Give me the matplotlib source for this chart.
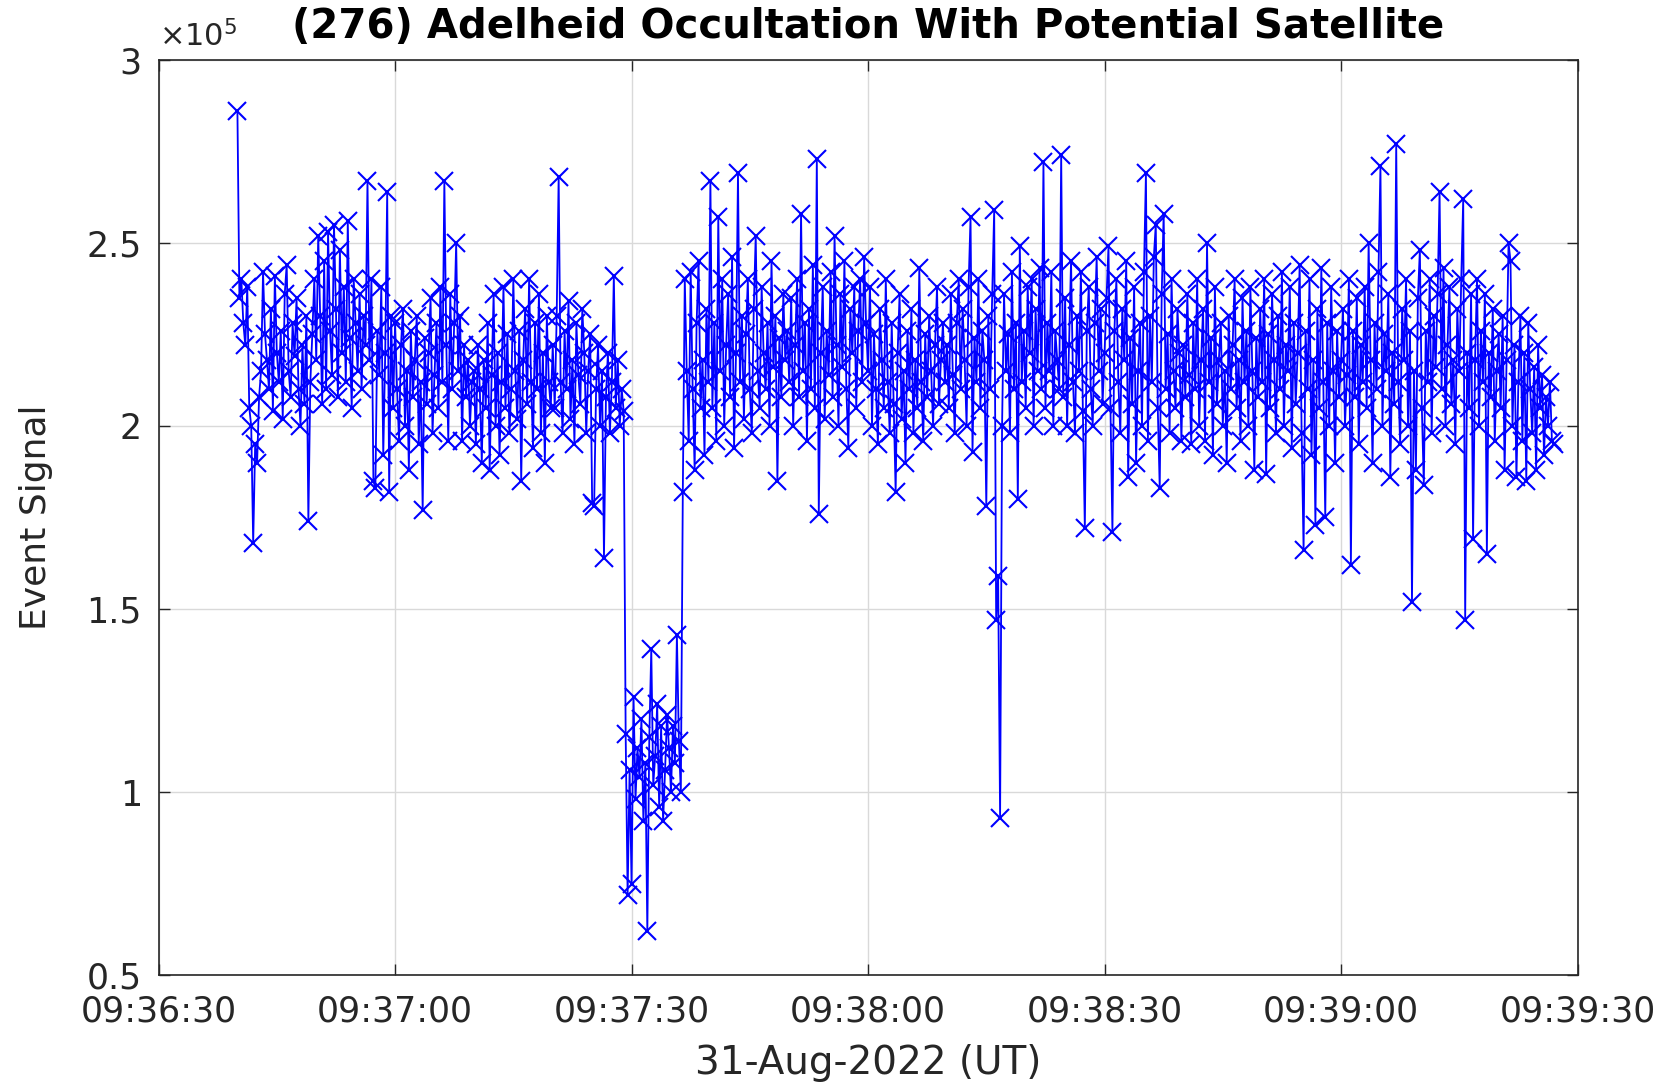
import numpy as np
import matplotlib
matplotlib.use("Agg")
import matplotlib.pyplot as plt
from matplotlib.ticker import FuncFormatter

# Event signal, units of 1e3 counts, one sample every 0.25 s from 09:36:40
b00 = [286, 235, 240, 228, 222, 238, 205, 200, 168, 195, 190, 208, 215, 242, 225, 218, 210, 232, 204, 241,
       220, 212, 226, 202, 236, 244, 215, 208, 228, 219, 235, 210, 200, 222, 206, 230, 174, 212, 225, 240]
b01 = [218, 252, 230, 206, 245, 210, 253, 226, 214, 255, 232, 208, 248, 220, 238, 212, 256, 224, 205, 240,
       228, 215, 236, 210, 230, 222, 267, 218, 240, 185, 183, 226, 214, 238, 192, 220, 264, 182, 230, 205]
b02 = [228, 210, 196, 222, 232, 200, 215, 188, 226, 208, 218, 230, 195, 212, 177, 224, 206, 220, 235, 198,
       214, 228, 205, 238, 212, 267, 222, 196, 236, 210, 228, 250, 215, 230, 196, 222, 208, 218, 200, 212]
b03 = [215, 195, 222, 210, 190, 218, 205, 228, 188, 214, 236, 200, 220, 192, 212, 238, 205, 225, 198, 210,
       240, 215, 202, 226, 185, 218, 232, 206, 240, 212, 194, 228, 210, 236, 198, 220, 190, 230, 212, 205]
b04 = [222, 205, 230, 268, 212, 198, 226, 210, 234, 202, 218, 195, 228, 214, 206, 232, 220, 198, 215, 225,
       179, 178, 210, 222, 200, 215, 164, 208, 220, 198, 212, 241, 205, 218, 200, 210, 204, 116, 72, 106]
b05 = [75, 126, 98, 112, 104, 120, 92, 108, 62, 115, 139, 102, 110, 124, 96, 118, 92, 106, 121, 112,
       100, 118, 108, 143, 114, 100, 182, 240, 215, 196, 242, 210, 188, 228, 245, 205, 218, 192, 232, 212]
b06 = [267, 205, 228, 196, 257, 215, 240, 200, 222, 236, 208, 246, 194, 220, 269, 212, 230, 202, 225, 240,
       210, 198, 232, 252, 215, 205, 238, 220, 210, 228, 200, 245, 216, 230, 185, 224, 208, 236, 218, 226]
b07 = [212, 235, 200, 222, 240, 208, 258, 215, 228, 196, 232, 210, 244, 205, 273, 176, 220, 238, 202, 226,
       214, 242, 208, 252, 222, 200, 236, 216, 245, 210, 194, 232, 220, 238, 205, 226, 240, 212, 246, 228]
b08 = [215, 238, 200, 225, 210, 195, 232, 218, 205, 240, 212, 198, 228, 206, 182, 220, 236, 202, 215, 190,
       226, 210, 232, 198, 218, 205, 243, 212, 196, 225, 208, 230, 215, 200, 222, 238, 206, 218, 228, 212]
b09 = [222, 205, 236, 214, 198, 228, 240, 210, 232, 218, 200, 238, 257, 193, 224, 212, 240, 205, 226, 218,
       178, 230, 210, 236, 259, 147, 159, 93, 200, 236, 215, 225, 198, 242, 210, 228, 180, 249, 212, 226]
b10 = [205, 238, 220, 240, 200, 232, 215, 243, 210, 272, 205, 228, 215, 242, 200, 226, 218, 210, 274, 208,
       235, 200, 222, 245, 212, 198, 230, 215, 242, 204, 172, 226, 238, 210, 200, 228, 246, 215, 232, 206]
b11 = [220, 235, 249, 205, 171, 226, 240, 212, 198, 232, 218, 245, 186, 224, 206, 238, 190, 215, 228, 200,
       242, 269, 196, 230, 212, 246, 255, 205, 183, 236, 258, 210, 225, 198, 240, 215, 205, 232, 220, 196]
b12 = [222, 208, 236, 214, 195, 228, 210, 240, 200, 218, 232, 196, 250, 212, 224, 192, 238, 206, 218, 228,
       200, 215, 190, 230, 210, 222, 240, 205, 218, 196, 235, 212, 226, 200, 238, 215, 188, 224, 208, 232]
b13 = [212, 240, 187, 225, 205, 236, 218, 198, 230, 210, 242, 200, 222, 215, 238, 194, 228, 206, 220, 244,
       198, 166, 226, 210, 240, 192, 218, 173, 232, 205, 243, 212, 175, 228, 200, 238, 215, 190, 226, 208]
b14 = [218, 232, 200, 214, 240, 162, 226, 208, 235, 195, 222, 212, 238, 205, 250, 218, 190, 228, 210, 242,
       271, 200, 225, 215, 236, 186, 220, 206, 277, 212, 195, 232, 218, 240, 200, 226, 152, 215, 188, 235]
b15 = [248, 205, 184, 226, 212, 240, 198, 230, 216, 236, 264, 210, 243, 200, 222, 238, 206, 218, 195, 232,
       215, 240, 262, 147, 220, 205, 236, 169, 218, 240, 200, 226, 212, 236, 165, 220, 208, 232, 196, 215]
b16 = [225, 205, 230, 188, 218, 250, 245, 200, 222, 186, 212, 230, 196, 220, 185, 228, 210, 198, 216, 188,
       222, 205, 214, 192, 208, 200, 212, 196, 195]

blocks = [b00, b01, b02, b03, b04, b05, b06, b07, b08, b09, b10, b11, b12, b13, b14, b15, b16]
signal = np.concatenate(blocks) * 1e3

# seconds after 09:36:30
t_start = 10.0
dt = 0.25
t = t_start + dt * np.arange(len(signal))

xticks = [0, 30, 60, 90, 120, 150, 180]
xticklabels = ["09:36:30", "09:37:00", "09:37:30", "09:38:00", "09:38:30", "09:39:00", "09:39:30"]
yticks = [0.5e5, 1e5, 1.5e5, 2e5, 2.5e5, 3e5]

plt.rcParams['font.family'] = ['DejaVu Sans']
tick_col = (0.15, 0.15, 0.15)

fig = plt.figure(figsize=(16.8, 10.86), dpi=100)
ax = fig.add_axes([0.0944, 0.102, 0.8446, 0.843])

ax.plot(t, signal, color=(0, 0, 1), linewidth=1.3, marker='x',
        markersize=13, markeredgewidth=1.5)

ax.set_xlim(0, 180)
ax.set_ylim(0.5e5, 3e5)
ax.set_xticks(xticks)
ax.set_xticklabels(xticklabels)
ax.set_yticks(yticks)
ax.yaxis.set_major_formatter(FuncFormatter(lambda v, p: "%g" % (v / 1e5)))

ax.grid(True, color=(0.85, 0.85, 0.85), linewidth=1.0)
ax.tick_params(direction='in', length=8, width=1, top=True, right=True,
               labelsize=25, colors=tick_col)
ax.tick_params(axis='x', pad=14)
ax.tick_params(axis='y', pad=12)
for s in ax.spines.values():
    s.set_color(tick_col)
    s.set_linewidth(1.2)

ax.set_xlabel("31-Aug-2022 (UT)", fontsize=28, color=tick_col, labelpad=11)
ax.set_ylabel("Event Signal", fontsize=26, color=tick_col, labelpad=24)
ax.set_title("(276) Adelheid Occultation With Potential Satellite",
             fontsize=29, fontweight='bold', pad=16)
ax.text(0.0, 1.008, r"$\times10^{5}$", transform=ax.transAxes, fontsize=22,
        color=tick_col, ha='left', va='bottom')

fig.savefig("out.png", dpi=100)
